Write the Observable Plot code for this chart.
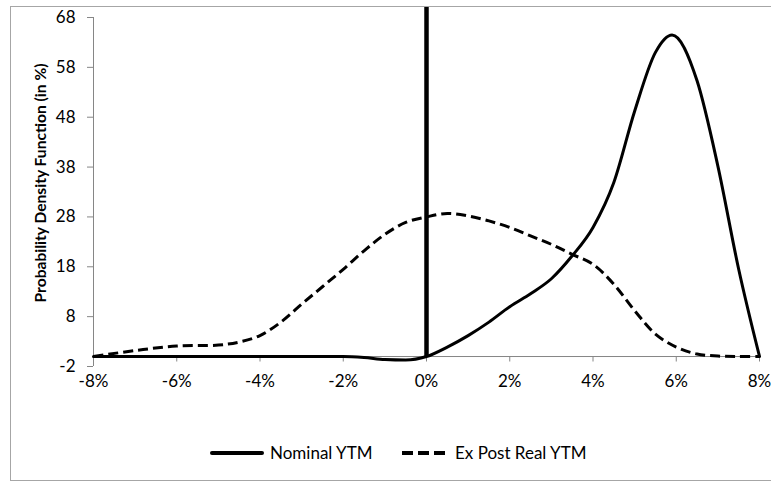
<!DOCTYPE html>
<html>
<head>
<meta charset="utf-8">
<script src="https://cdn.jsdelivr.net/npm/d3@7"></script>
<script src="https://cdn.jsdelivr.net/npm/@observablehq/plot@0.6"></script>
<style>
  html, body { margin: 0; padding: 0; background: #fff; overflow: hidden; }
  #wrap { position: relative; width: 771px; height: 481px; font-family: Lato, "Open Sans", sans-serif; }
  #frame { position: absolute; left: 10px; top: 6px; width: 800px; height: 475px; border: 1px solid #a6a6a6; box-sizing: border-box; }
  #chart { position: absolute; left: 0; top: 0; }
  #legend { position: absolute; left: 0; top: 438px; }
</style>
</head>
<body>
<div id="wrap">
  <div id="frame"></div>
  <div id="chart"></div>
  <div id="legend"></div>
</div>
<script>
// ---- data (x in %, y = probability density in %) ----
const nominalX = [-8, -6, -4, -2, -1.5, -1, -0.5, 0, 0.5, 1, 1.5, 2, 2.5, 3, 3.5, 4, 4.5, 5, 5.5, 5.9, 6.5, 7, 7.5, 8];
const nominalY = [0, 0, 0, 0, -0.2, -0.6, -0.7, 0, 1.9, 4.2, 6.9, 10.0, 12.6, 15.6, 20.2, 25.9, 34.9, 49.2, 61.0, 64.5, 55.3, 38.2, 17.5, 0];

const realX = [-8, -7, -6, -5, -4.5, -4, -3.5, -3, -2.5, -2, -1.5, -1, -0.5, 0, 0.5, 1, 1.5, 2, 2.5, 3, 3.5, 4, 4.5, 5, 5.5, 6, 6.5, 7, 7.5, 8];
const realY = [0, 1.2, 2.1, 2.3, 2.9, 4.2, 6.9, 10.5, 14.0, 17.5, 21.2, 24.5, 26.9, 28.0, 28.7, 28.2, 27.2, 25.9, 24.2, 22.5, 20.5, 18.5, 14.5, 9.2, 4.5, 1.9, 0.5, 0.1, 0, 0];

const xTicks = [-8, -6, -4, -2, 0, 2, 4, 6, 8];
const xTickLabels = ["-8%", "-6%", "-4%", "-2%", "0%", "2%", "4%", "6%", "8%"];
const yTicks = [-2, 8, 18, 28, 38, 48, 58, 68];
const seriesNames = ["Nominal YTM", "Ex Post Real YTM"];
const yTitle = "Probability Density Function (in %)";
const zeroLine = [0];

const nominal = nominalX.map((x, i) => ({x, y: nominalY[i]}));
const real = realX.map((x, i) => ({x, y: realY[i]}));
const xTickData = xTicks.map((x, i) => ({x, label: xTickLabels[i]}));

const axisGray = "#868686";
const FS = 17;

const chart = Plot.plot({
  width: 771,
  height: 400,
  marginLeft: 93,
  marginRight: 12,
  marginTop: 17,
  marginBottom: 34,
  style: {fontFamily: "Lato, 'Open Sans', sans-serif", fontSize: FS + "px", background: "transparent", overflow: "visible", color: "#000"},
  x: {domain: [-8, 8], axis: null},
  y: {domain: [-2, 68], axis: null},
  marks: [
    // y axis line
    Plot.ruleX([-8], {y1: -2, y2: 68, stroke: axisGray, strokeWidth: 1}),
    Plot.axisY({ticks: yTicks, tickSize: 6, tickPadding: 12, stroke: axisGray, label: null, tickFormat: d => String(d), fill: "#000", fontSize: FS}),
    // x axis at y = 0
    Plot.ruleY([0], {x1: -8, x2: 8, stroke: axisGray, strokeWidth: 1}),
    Plot.ruleX(xTickData, {x: "x", y1: 0, y2: -1.1, stroke: axisGray}),
    Plot.text(xTickData, {x: "x", y: -2, dy: 15, text: "label", fill: "#000", fontSize: FS, textAnchor: "middle", lineAnchor: "middle"}),
    // y title
    Plot.text([yTitle], {frameAnchor: "left", rotate: -90, dx: -53, dy: -9, text: d => d, textAnchor: "middle", lineAnchor: "middle", fontWeight: "bold", fontSize: 15.6, fill: "#000"}),
    // vertical line at 0%
    Plot.ruleX(zeroLine, {x: d => d, y1: 0, y2: 70, stroke: "#000", strokeWidth: 4.5}),
    // series
    Plot.line(real, {x: "x", y: "y", curve: "catmull-rom", stroke: "#000", strokeWidth: 3, strokeDasharray: "10,5", strokeLinecap: "butt"}),
    Plot.line(nominal, {x: "x", y: "y", curve: "monotone-x", stroke: "#000", strokeWidth: 3, strokeLinejoin: "round"})
  ]
});
document.getElementById("chart").appendChild(chart);

// legend
const ns = "http://www.w3.org/2000/svg";
const lg = document.createElementNS(ns, "svg");
lg.setAttribute("width", 771);
lg.setAttribute("height", 30);
lg.setAttribute("style", "font-family: Lato, 'Open Sans', sans-serif; font-size: " + FS + "px;");
const cy = 15;
const items = [
  {x1: 212, x2: 262, tx: 270, dash: null, name: seriesNames[0]},
  {x1: 402, x2: 446, tx: 455, dash: "11,5", name: seriesNames[1]}
];
items.forEach(it => {
  const l = document.createElementNS(ns, "line");
  l.setAttribute("x1", it.x1); l.setAttribute("x2", it.x2);
  l.setAttribute("y1", cy); l.setAttribute("y2", cy);
  l.setAttribute("stroke", "#000"); l.setAttribute("stroke-width", 4);
  if (it.dash) l.setAttribute("stroke-dasharray", it.dash); else l.setAttribute("stroke-linecap", "round");
  lg.appendChild(l);
  const t = document.createElementNS(ns, "text");
  t.setAttribute("x", it.tx); t.setAttribute("y", cy);
  t.setAttribute("dy", "0.35em");
  t.setAttribute("fill", "#000");
  t.textContent = it.name;
  lg.appendChild(t);
});
document.getElementById("legend").appendChild(lg);
</script>
</body>
</html>
